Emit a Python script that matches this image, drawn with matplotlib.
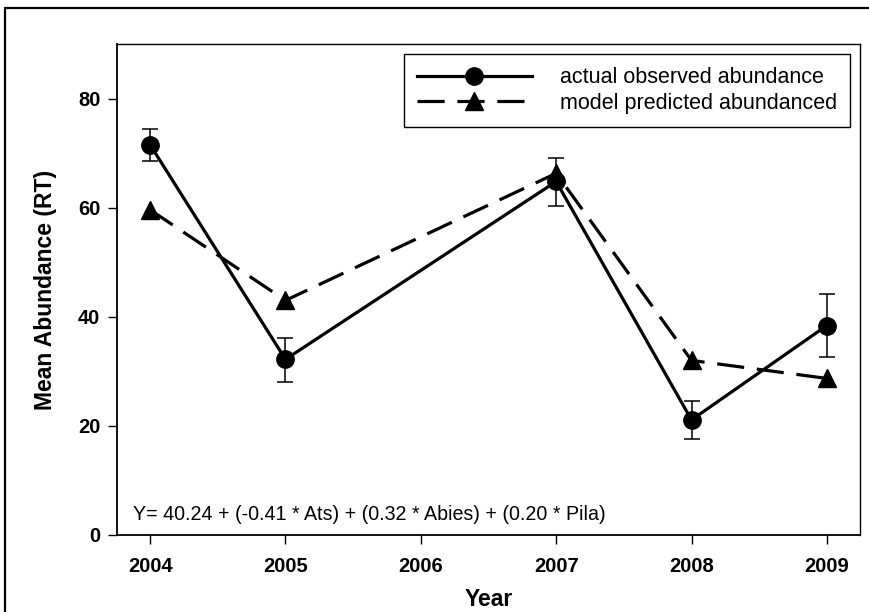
import numpy as np
import matplotlib
matplotlib.use('Agg')
import matplotlib.pyplot as plt
from matplotlib.patches import Rectangle

plt.rcParams['font.family'] = ['Liberation Sans', 'DejaVu Sans']

# data
years = [2004, 2005, 2007, 2008, 2009]
observed = [71.5, 32.2, 64.8, 21.1, 38.4]
obs_err_low = [3.0, 4.1, 4.5, 3.5, 5.8]
obs_err_high = [2.9, 3.9, 4.3, 3.5, 5.7]
predicted = [59.6, 43.0, 66.3, 32.0, 28.7]
xticks = [2004, 2005, 2006, 2007, 2008, 2009]
yticks = [0, 20, 40, 60, 80]
equation = 'Y= 40.24 + (-0.41 * Ats) + (0.32 * Abies) + (0.20 * Pila)'

fig = plt.figure(figsize=(8.7, 6.12), dpi=100)
ax = fig.add_axes([117/870, 1 - 535/612, (860-117)/870, (535-44)/612])

# outer frame (only left/top visible in the original)
fig.patches.append(Rectangle((5/870, -0.05), 1.2, 1 - 8/612 + 0.05, transform=fig.transFigure,
                             fill=False, edgecolor='k', linewidth=1.6, clip_on=False))

ax.errorbar(years, observed, yerr=[obs_err_low, obs_err_high], fmt='none',
            ecolor='k', elinewidth=1.1, capsize=6, capthick=1.1, zorder=2)
ax.plot(years, observed, color='k', lw=2.3, marker='o', ms=12.5,
        label='actual observed abundance', zorder=3)
ax.plot(years, predicted, color='k', lw=2.3, linestyle=(0, (8.5, 4)), marker='^', ms=13,
        label='model predicted abundanced', zorder=3)

ax.set_xlim(2003.755, 2009.245)
ax.set_ylim(0, 90)
ax.set_xticks(xticks)
ax.set_yticks(yticks)
ax.tick_params(direction='out', length=6.5, width=1.0)
ax.tick_params(axis='x', pad=9)
ax.tick_params(axis='y', pad=5.5)
for lab in ax.get_xticklabels() + ax.get_yticklabels():
    lab.set_fontsize(14.5)
    lab.set_fontweight('bold')
for s in ax.spines.values():
    s.set_linewidth(1.0)
ax.spines['left'].set_linewidth(1.3)
ax.spines['bottom'].set_linewidth(1.3)

ax.set_xlabel('Year', fontsize=16.5, fontweight='bold', labelpad=9)
ax.set_ylabel('Mean Abundance (RT)', fontsize=16.5, fontweight='bold', labelpad=15)

ax.text(0.021, 0.022, equation, transform=ax.transAxes, fontsize=14.1, ha='left', va='bottom')

leg = ax.legend(loc='upper right', bbox_to_anchor=(1 - 10/743, 1 - 10/491), fontsize=15.5,
                handlelength=5.3, handletextpad=1.3, fancybox=False, framealpha=1,
                edgecolor='k', borderpad=0.62, labelspacing=0.2, borderaxespad=0)
leg.get_frame().set_linewidth(1.0)

fig.savefig('out.png', dpi=100)
